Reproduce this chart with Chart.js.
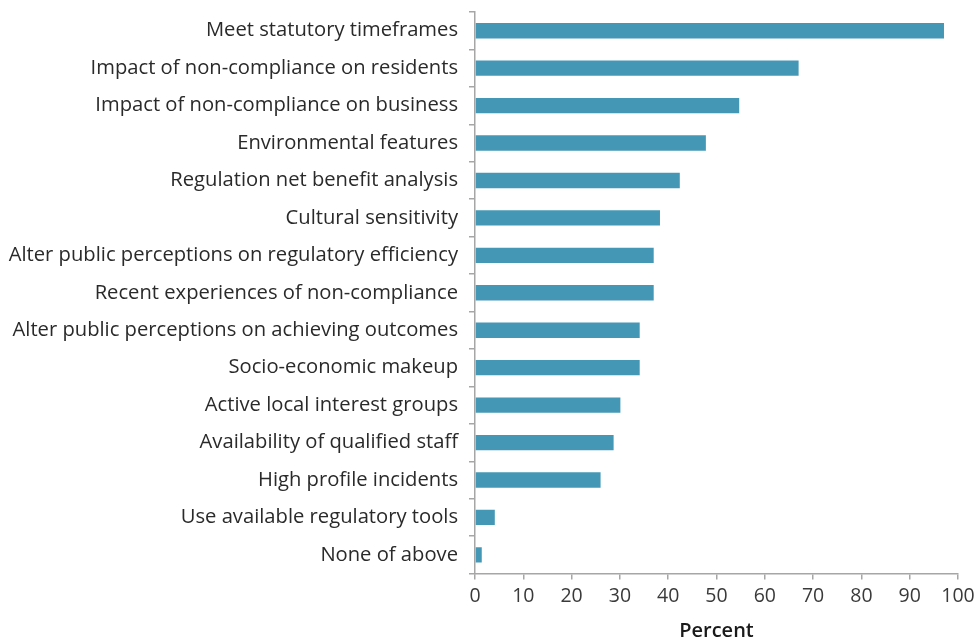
<!DOCTYPE html>
<html>
<head>
<meta charset="utf-8">
<script src="https://cdn.jsdelivr.net/npm/chart.js@4/dist/chart.umd.min.js"></script>
<style>
  body { margin: 0; background: #fff; }
  #wrap { width: 975px; height: 638px; }
</style>
</head>
<body>
<div id="wrap"><canvas id="factors" width="975" height="638"></canvas></div>
<script>
'use strict';

const categories = [
    'Meet statutory timeframes',
    'Impact of non-compliance on residents',
    'Impact of non-compliance on business',
    'Environmental features',
    'Regulation net benefit analysis',
    'Cultural sensitivity',
    'Alter public perceptions on regulatory efficiency',
    'Recent experiences of non-compliance',
    'Alter public perceptions on achieving outcomes',
    'Socio-economic makeup',
    'Active local interest groups',
    'Availability of qualified staff',
    'High profile incidents',
    'Use available regulatory tools',
    'None of above'
];
const percents = [97.1, 67.0, 54.7, 47.8, 42.4, 38.3, 37.0, 37.0, 34.1, 34.1, 30.1, 28.7, 26.0, 4.1, 1.4];
const xTicks = [0, 10, 20, 30, 40, 50, 60, 70, 80, 90, 100];

const fontFamily = '"Open Sans", Lato, sans-serif';
const axisGrey = '#a6a6a6';

const config = {
    type: 'bar',
    data: {
        labels: categories,
        datasets: [{
            data: percents,
            backgroundColor: '#4598b5',
            borderWidth: 0,
            categoryPercentage: 1,
            barPercentage: 0.41
        }]
    },
    options: {
        indexAxis: 'y',
        responsive: false,
        animation: false,
        layout: { padding: { top: 12, right: 0, left: 0, bottom: 0 } },
        plugins: {
            legend: { display: false },
            tooltip: { enabled: false }
        },
        scales: {
            x: {
                min: 0,
                max: 100,
                afterBuildTicks: (axis) => { axis.ticks = xTicks.map(v => ({ value: v })); },
                afterFit: (scale) => { scale.paddingRight = 17; },
                border: { color: axisGrey, width: 1.5 },
                grid: { drawOnChartArea: false, color: axisGrey, tickLength: 6, lineWidth: 1.5 },
                ticks: {
                    color: '#3a3a3a',
                    padding: 5,
                    maxRotation: 0,
                    font: { family: fontFamily, size: 19.5 }
                },
                title: {
                    display: true,
                    text: 'Percent',
                    color: '#1a1a1a',
                    padding: { top: 6, bottom: -5 },
                    font: { family: fontFamily, size: 20, weight: '600' }
                }
            },
            y: {
                afterFit: (scale) => {
                    // keep the category labels from pushing the plot down
                    scale.width = 475;
                    scale.paddingTop = 0;
                    scale.paddingBottom = 0;
                },
                border: { color: axisGrey, width: 1.5 },
                grid: { drawOnChartArea: false, color: axisGrey, tickLength: 6, lineWidth: 1.5, offset: true },
                ticks: {
                    color: '#2a2a2a',
                    padding: 11,
                    autoSkip: false,
                    font: { family: fontFamily, size: 20.2 }
                }
            }
        }
    }
};

const ctx = document.querySelector('#factors').getContext('2d');
let chart = new Chart(ctx, config);
</script>
</body>
</html>
